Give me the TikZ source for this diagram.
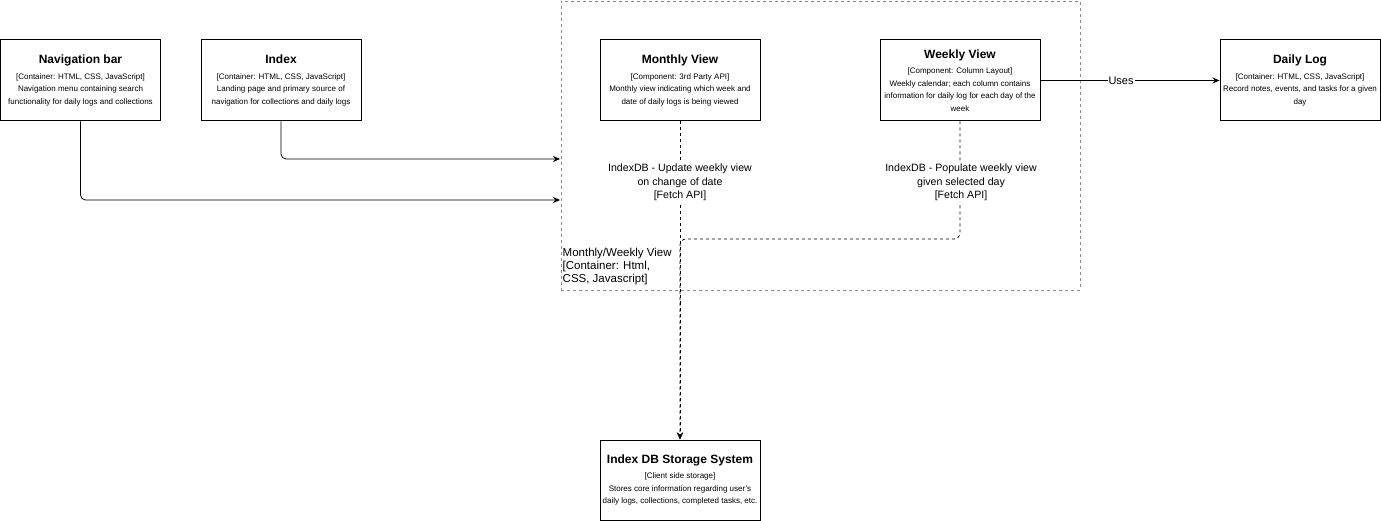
\documentclass[tikz,border=0pt]{standalone}
\usepackage{fontspec}
\setmainfont{Liberation Sans}
\usetikzlibrary{arrows.meta}
\begin{document}
\begin{tikzpicture}[x=1pt,y=-1pt,
  box/.style={draw, line width=1pt, minimum width=160pt, minimum height=81pt, align=center, inner sep=2pt, font=\fontsize{8}{12.6}\selectfont},
  arr/.style={line width=0.8pt, -{Stealth[length=7pt,width=6pt]}},
  darr/.style={line width=0.8pt, dash pattern=on 3pt off 3pt, -{Stealth[length=7pt,width=6pt]}},
  elabel/.style={fill=white, align=center, inner sep=1pt, font=\fontsize{10.6}{13.5}\selectfont},
  cont/.style={draw=black!45, line width=0.7pt, dash pattern=on 3pt off 3pt, minimum width=519pt, minimum height=289pt, inner sep=0pt}
]
\useasboundingbox (0,0) rectangle (1381,521);
\fill[white] (0,0) rectangle (1381,521);

\node[cont] (cont) at (820.5,145.5) {};
\node[anchor=north west, align=left, inner sep=0pt, font=\fontsize{11.5}{13.2}\selectfont] (contlbl) at (562.5,247.5) {Monthly/Weekly View\\{}[Container: Html,\\CSS, Javascript]};

\newcommand{\btitle}[1]{{\fontsize{12}{14}\selectfont\bfseries #1}\\[3pt]}

\node[box] (nav) at (80.5,80.5) {\btitle{Navigation bar}[Container: HTML, CSS, JavaScript]\\Navigation menu containing search\\functionality for daily logs and collections};
\node[box] (idx) at (281,80.5) {\btitle{Index}[Container: HTML, CSS, JavaScript]\\Landing page and primary source of\\navigation for collections and daily logs};
\node[box] (mon) at (680,80.5) {\btitle{Monthly View}[Component: 3rd Party API]\\Monthly view indicating which week and\\date of daily logs is being viewed};
\node[box] (wk) at (960,80.5) {\btitle{Weekly View}[Component: Column Layout]\\Weekly calendar; each column contains\\information for daily log for each day of the\\week};
\node[box] (dl) at (1300,80.5) {\btitle{Daily Log}[Container: HTML, CSS, JavaScript]\\Record notes, events, and tasks for a given\\day};
\node[box, minimum height=80pt] (idb) at (680,480) {\btitle{Index DB Storage System}[Client side storage]\\Stores core information regarding user's\\daily logs, collections, completed tasks, etc.};

\coordinate (idxin) at (560,159);
\coordinate (navin) at (560,200);
\coordinate (wk1) at (960,239);
\coordinate (wk2) at (680,239);

\draw[arr, rounded corners=5pt] (idx.south) |- (idxin);
\draw[arr, rounded corners=5pt] (nav.south) |- (navin);
\draw[arr] (wk.east) -- (dl.west) node[pos=0.45, fill=white, inner sep=1pt, font=\fontsize{11}{13}\selectfont] (uses) {Uses};

\draw[darr] (mon.south) -- (idb.north);
\draw[darr, rounded corners=6pt] (wk.south) -- (wk1) -- (wk2) -- (idb.north);

\node[elabel] (l1) at (680,182.5) {IndexDB - Update weekly view\\on change of date\\{}[Fetch API]};
\node[elabel] (l2) at (961,182.5) {IndexDB - Populate weekly view\\given selected day\\{}[Fetch API]};
\end{tikzpicture}
\end{document}
